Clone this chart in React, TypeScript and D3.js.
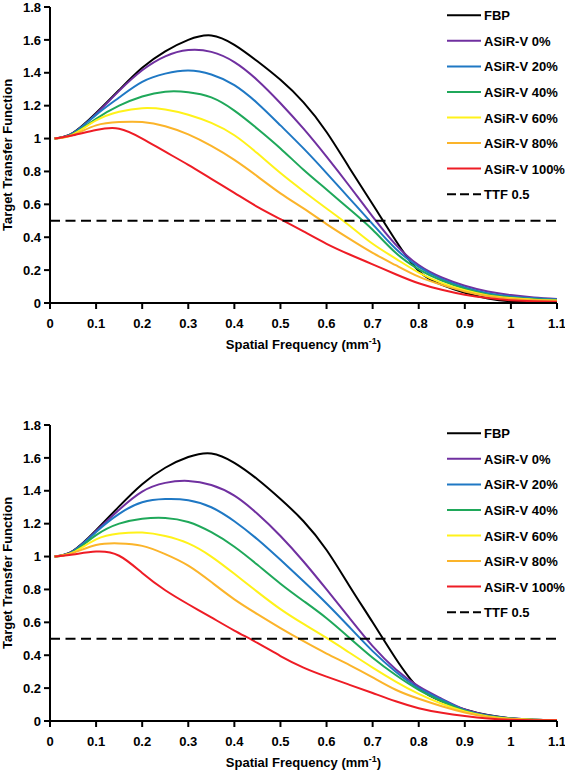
import React from "react";
import * as d3 from "d3";

const FREQ = [0.01, 0.05, 0.1, 0.15, 0.2, 0.25, 0.3, 0.35, 0.4, 0.45, 0.5, 0.55, 0.6, 0.65, 0.7, 0.75, 0.8, 0.85, 0.9, 0.95, 1.0, 1.05, 1.1];

const SERIES_NAMES = ["FBP", "ASiR-V 0%", "ASiR-V 20%", "ASiR-V 40%", "ASiR-V 60%", "ASiR-V 80%", "ASiR-V 100%"];
const SERIES_COLORS = ["#000000", "#7030A0", "#1F78C4", "#1FA85A", "#FFF21A", "#FBB42A", "#EE1C25"];

const FBP_TOP = [1.0, 1.035, 1.155, 1.295, 1.43, 1.53, 1.6, 1.627, 1.57, 1.47, 1.357, 1.22, 1.04, 0.82, 0.6, 0.38, 0.195, 0.11, 0.062, 0.028, 0.01, 0.006, 0.005];
const V0_TOP = [1.0, 1.033, 1.15, 1.29, 1.415, 1.5, 1.538, 1.527, 1.465, 1.355, 1.215, 1.06, 0.89, 0.71, 0.525, 0.355, 0.23, 0.155, 0.105, 0.07, 0.048, 0.034, 0.025];
const V20_TOP = [1.0, 1.032, 1.144, 1.25, 1.345, 1.395, 1.414, 1.39, 1.325, 1.215, 1.08, 0.94, 0.79, 0.635, 0.48, 0.33, 0.22, 0.145, 0.095, 0.06, 0.04, 0.029, 0.022];
const V40_TOP = [1.0, 1.028, 1.12, 1.2, 1.256, 1.285, 1.282, 1.25, 1.17, 1.06, 0.94, 0.81, 0.69, 0.57, 0.445, 0.305, 0.205, 0.136, 0.087, 0.052, 0.034, 0.024, 0.018];
const V60_TOP = [1.0, 1.025, 1.11, 1.163, 1.185, 1.177, 1.145, 1.095, 1.02, 0.91, 0.79, 0.68, 0.575, 0.47, 0.36, 0.27, 0.185, 0.122, 0.077, 0.046, 0.03, 0.02, 0.015];
const V80_TOP = [1.0, 1.022, 1.08, 1.1, 1.1, 1.075, 1.025, 0.955, 0.87, 0.77, 0.667, 0.575, 0.48, 0.39, 0.305, 0.23, 0.16, 0.11, 0.07, 0.042, 0.026, 0.018, 0.012];
const V100_TOP = [1.0, 1.02, 1.052, 1.06, 1.0, 0.92, 0.84, 0.755, 0.67, 0.585, 0.51, 0.435, 0.36, 0.295, 0.235, 0.175, 0.12, 0.08, 0.05, 0.03, 0.017, 0.011, 0.008];

const FBP_BOT = [1.0, 1.035, 1.16, 1.305, 1.44, 1.54, 1.605, 1.627, 1.57, 1.47, 1.35, 1.215, 1.04, 0.82, 0.6, 0.38, 0.2, 0.12, 0.07, 0.036, 0.016, 0.008, 0.005];
const V0_BOT = [1.0, 1.033, 1.155, 1.285, 1.395, 1.448, 1.46, 1.435, 1.37, 1.26, 1.125, 0.97, 0.8, 0.625, 0.455, 0.315, 0.21, 0.135, 0.07, 0.035, 0.016, 0.008, 0.006];
const V20_BOT = [1.0, 1.032, 1.15, 1.26, 1.33, 1.35, 1.343, 1.3, 1.215, 1.105, 0.98, 0.85, 0.715, 0.57, 0.425, 0.3, 0.2, 0.13, 0.066, 0.032, 0.015, 0.008, 0.006];
const V40_BOT = [1.0, 1.028, 1.13, 1.2, 1.23, 1.235, 1.21, 1.148, 1.06, 0.95, 0.835, 0.73, 0.625, 0.505, 0.385, 0.28, 0.19, 0.12, 0.062, 0.03, 0.015, 0.008, 0.006];
const V60_BOT = [1.0, 1.025, 1.105, 1.14, 1.146, 1.125, 1.08, 1.0, 0.895, 0.785, 0.68, 0.59, 0.505, 0.415, 0.325, 0.24, 0.165, 0.105, 0.058, 0.028, 0.013, 0.007, 0.005];
const V80_BOT = [1.0, 1.022, 1.07, 1.08, 1.065, 1.015, 0.945, 0.845, 0.74, 0.65, 0.565, 0.485, 0.41, 0.34, 0.265, 0.19, 0.135, 0.09, 0.052, 0.025, 0.012, 0.006, 0.005];
const V100_BOT = [1.0, 1.012, 1.03, 1.005, 0.9, 0.795, 0.71, 0.63, 0.55, 0.475, 0.395, 0.325, 0.27, 0.22, 0.17, 0.12, 0.078, 0.05, 0.03, 0.015, 0.007, 0.004, 0.004];

const X_TICKS = [0, 0.1, 0.2, 0.3, 0.4, 0.5, 0.6, 0.7, 0.8, 0.9, 1, 1.1];
const Y_TICKS = [0, 0.2, 0.4, 0.6, 0.8, 1, 1.2, 1.4, 1.6, 1.8];
const TTF_LEVEL = 0.5;
const TTF_LABEL = "TTF 0.5";
const Y_TITLE = "Target Transfer Function";
const X_TITLE = "Spatial Frequency (mm";

const FONT = "'Liberation Sans', Arial, Helvetica, sans-serif";

function Chart({ top, data }: { top: number; data: number[][] }) {
  const x = d3.scaleLinear().domain([0, 1.1]).range([50, 557]);
  const y = d3.scaleLinear().domain([0, 1.8]).range([top + 296, top]);
  const line = d3
    .line<number>()
    .x((_, i) => x(FREQ[i]))
    .y((d) => y(d))
    .curve(d3.curveNatural);
  const axisY = y(0);
  const legendX0 = 447;
  const legendX1 = 481;
  const legendY0 = top + 8.3;
  const legendStep = 25.55;
  return (
    <g fontFamily={FONT} fontWeight="bold">
      {data.map((s, i) => (
        <path key={i} d={line(s) || ""} fill="none" stroke={SERIES_COLORS[i]} strokeWidth={2} />
      ))}
      <line x1={x(0)} x2={x(1.1)} y1={y(TTF_LEVEL)} y2={y(TTF_LEVEL)} stroke="#000" strokeWidth={2} strokeDasharray="10,5.5" />
      <line x1={x(0)} x2={x(1.1)} y1={axisY} y2={axisY} stroke="#000" strokeWidth={2} />
      <line x1={x(0)} x2={x(0)} y1={y(1.8)} y2={axisY + 1} stroke="#000" strokeWidth={2} />
      {X_TICKS.map((t) => (
        <g key={"x" + t}>
          <line x1={x(t)} x2={x(t)} y1={axisY} y2={axisY + 6} stroke="#000" strokeWidth={2} />
          <text x={x(t)} y={axisY + 25} textAnchor="middle" fontSize={13} fill="#000">
            {d3.format("~g")(t)}
          </text>
        </g>
      ))}
      {Y_TICKS.map((t) => (
        <g key={"y" + t}>
          <line x1={x(0) - 6} x2={x(0)} y1={y(t)} y2={y(t)} stroke="#000" strokeWidth={2} />
          <text x={x(0) - 9} y={y(t)} dy="0.36em" textAnchor="end" fontSize={13} fill="#000">
            {d3.format("~g")(t)}
          </text>
        </g>
      ))}
      <text
        transform={`translate(12,${y(0.9)}) rotate(-90)`}
        textAnchor="middle"
        fontSize={13}
        fill="#000"
      >
        {Y_TITLE}
      </text>
      <text x={(x(0) + x(1.1)) / 2} y={axisY + 46} textAnchor="middle" fontSize={13} fill="#000">
        <tspan>{X_TITLE}</tspan>
        <tspan dy={-5} fontSize={9}>-1</tspan>
        <tspan dy={5}>)</tspan>
      </text>
      {SERIES_NAMES.map((n, i) => {
        const ly = legendY0 + i * legendStep;
        return (
          <g key={n}>
            <line x1={legendX0} x2={legendX1} y1={ly} y2={ly} stroke={SERIES_COLORS[i]} strokeWidth={2} />
            <text x={legendX1 + 3} y={ly + 5} fontSize={13} fill="#000">
              {n}
            </text>
          </g>
        );
      })}
      <line
        x1={legendX0}
        x2={legendX1}
        y1={legendY0 + 7 * legendStep}
        y2={legendY0 + 7 * legendStep}
        stroke="#000"
        strokeWidth={2}
        strokeDasharray="9,4"
      />
      <text x={legendX1 + 3} y={legendY0 + 7 * legendStep + 5} fontSize={13} fill="#000">
        {TTF_LABEL}
      </text>
    </g>
  );
}

export default function App() {
  const topData = [FBP_TOP, V0_TOP, V20_TOP, V40_TOP, V60_TOP, V80_TOP, V100_TOP];
  const botData = [FBP_BOT, V0_BOT, V20_BOT, V40_BOT, V60_BOT, V80_BOT, V100_BOT];
  return (
    <svg
      width={565}
      height={771}
      style={{ position: "absolute", left: 0, top: 0, background: "#fff" }}
    >
      <rect x={0} y={0} width={565} height={771} fill="#fff" />
      <Chart top={7} data={topData} />
      <Chart top={425} data={botData} />
    </svg>
  );
}
